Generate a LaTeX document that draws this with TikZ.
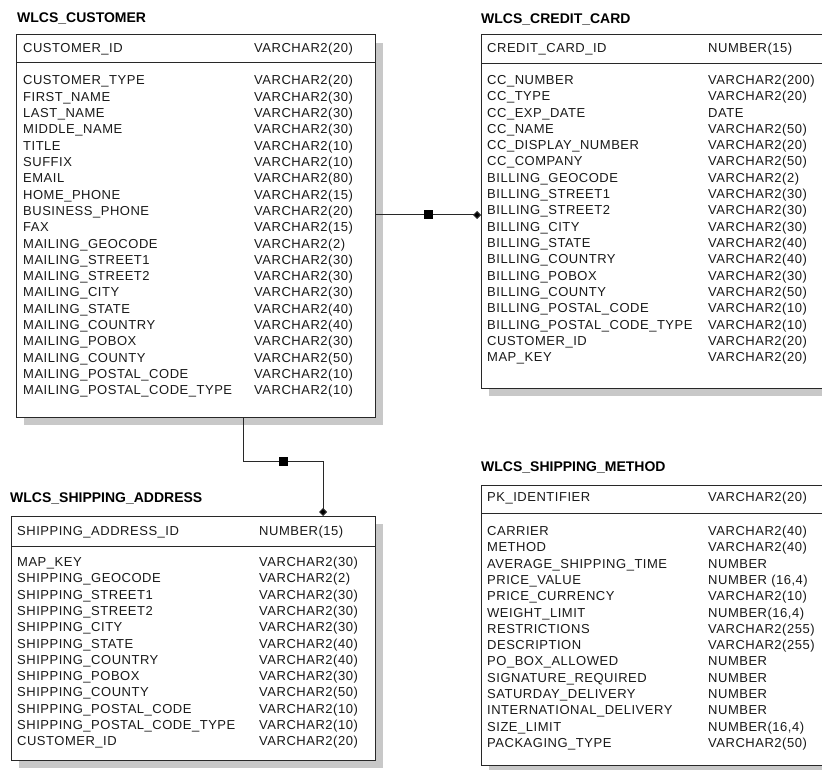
\documentclass[tikz,border=0pt]{standalone}
\usepackage{fontspec}
\setmainfont{Liberation Sans}
\newfontfamily\rowfont{Liberation Sans}[LetterSpace=4]
\newfontfamily\ttlfont{Liberation Sans}[LetterSpace=0]
\usetikzlibrary{shadows,arrows.meta}
\definecolor{shadowgray}{RGB}{200,200,200}
\definecolor{linec}{RGB}{40,40,40}
\tikzset{
  tbl/.style={draw=linec, line width=1pt, fill=white, anchor=north west, inner sep=0pt, outer sep=0pt,
    drop shadow={fill=shadowgray, opacity=1, shadow xshift=8pt, shadow yshift=-8pt}},
  ttl/.style={anchor=base west, inner sep=0pt, font=\ttlfont\bfseries\fontsize{14}{14}\selectfont},
  cell/.style={anchor=base west, inner sep=0pt, font=\rowfont\fontsize{13}{13}\selectfont, text=black!90},
  sqmark/.style={fill=black, minimum size=9pt, inner sep=0pt, outer sep=0pt},
  rel/.style={draw=linec, line width=1pt, -{Diamond[length=8pt,width=8pt,fill=black]}},
  sepline/.style={draw=linec, line width=1pt},
}
\begin{document}
\begin{tikzpicture}[x=1pt,y=-1pt]
\clip (0,0) rectangle (822,770);
\fill[white] (0,0) rectangle (822,770);

% ---------- WLCS_CUSTOMER ----------
\node[ttl] (custT) at (17,22.5) {WLCS\_CUSTOMER};
\node[tbl, minimum width=359pt, minimum height=382pt] (cust) at (16,35) {};
\draw[sepline] ([yshift=-28pt]cust.north west) -- ([yshift=-28pt]cust.north east);
\node[cell] (custIDn) at ([shift={(7,17.5)}]cust.north west) {CUSTOMER\_ID};
\node[cell] (custIDt) at ([shift={(238,17.5)}]cust.north west) {VARCHAR2(20)};
\foreach \n/\t [count=\i, evaluate=\i as \yy using 50+(\i-1)*16.3] in {
CUSTOMER\_TYPE/VARCHAR2(20), FIRST\_NAME/VARCHAR2(30), LAST\_NAME/VARCHAR2(30),
MIDDLE\_NAME/VARCHAR2(30), TITLE/VARCHAR2(10), SUFFIX/VARCHAR2(10), EMAIL/VARCHAR2(80),
HOME\_PHONE/VARCHAR2(15), BUSINESS\_PHONE/VARCHAR2(20), FAX/VARCHAR2(15),
MAILING\_GEOCODE/VARCHAR2(2), MAILING\_STREET1/VARCHAR2(30), MAILING\_STREET2/VARCHAR2(30),
MAILING\_CITY/VARCHAR2(30), MAILING\_STATE/VARCHAR2(40), MAILING\_COUNTRY/VARCHAR2(40),
MAILING\_POBOX/VARCHAR2(30), MAILING\_COUNTY/VARCHAR2(50), MAILING\_POSTAL\_CODE/VARCHAR2(10),
MAILING\_POSTAL\_CODE\_TYPE/VARCHAR2(10)} {
  \node[cell] (cust-n\i) at ([shift={(7,\yy)}]cust.north west) {\n};
  \node[cell] (cust-t\i) at ([shift={(238,\yy)}]cust.north west) {\t};
}

% ---------- WLCS_CREDIT_CARD ----------
\node[ttl] (ccT) at (481,23.5) {WLCS\_CREDIT\_CARD};
\node[tbl, minimum width=360pt, minimum height=353pt] (cc) at (481,35) {};
\draw[sepline] ([yshift=-29pt]cc.north west) -- ([yshift=-29pt]cc.north east);
\node[cell] (ccIDn) at ([shift={(6,17.5)}]cc.north west) {CREDIT\_CARD\_ID};
\node[cell] (ccIDt) at ([shift={(227,17.5)}]cc.north west) {NUMBER(15)};
\foreach \n/\t [count=\i, evaluate=\i as \yy using 49.5+(\i-1)*16.3] in {
CC\_NUMBER/VARCHAR2(200), CC\_TYPE/VARCHAR2(20), CC\_EXP\_DATE/DATE, CC\_NAME/VARCHAR2(50),
CC\_DISPLAY\_NUMBER/VARCHAR2(20), CC\_COMPANY/VARCHAR2(50), BILLING\_GEOCODE/VARCHAR2(2),
BILLING\_STREET1/VARCHAR2(30), BILLING\_STREET2/VARCHAR2(30), BILLING\_CITY/VARCHAR2(30),
BILLING\_STATE/VARCHAR2(40), BILLING\_COUNTRY/VARCHAR2(40), BILLING\_POBOX/VARCHAR2(30),
BILLING\_COUNTY/VARCHAR2(50), BILLING\_POSTAL\_CODE/VARCHAR2(10),
BILLING\_POSTAL\_CODE\_TYPE/VARCHAR2(10), CUSTOMER\_ID/VARCHAR2(20), MAP\_KEY/VARCHAR2(20)} {
  \node[cell] (cc-n\i) at ([shift={(6,\yy)}]cc.north west) {\n};
  \node[cell] (cc-t\i) at ([shift={(227,\yy)}]cc.north west) {\t};
}

% ---------- WLCS_SHIPPING_ADDRESS ----------
\node[ttl] (saT) at (10,502.5) {WLCS\_SHIPPING\_ADDRESS};
\node[tbl, minimum width=364pt, minimum height=244pt] (sa) at (11,516) {};
\draw[sepline] ([yshift=-30pt]sa.north west) -- ([yshift=-30pt]sa.north east);
\node[cell] (saIDn) at ([shift={(6,19.5)}]sa.north west) {SHIPPING\_ADDRESS\_ID};
\node[cell] (saIDt) at ([shift={(248,19.5)}]sa.north west) {NUMBER(15)};
\foreach \n/\t [count=\i, evaluate=\i as \yy using 50.5+(\i-1)*16.3] in {
MAP\_KEY/VARCHAR2(30), SHIPPING\_GEOCODE/VARCHAR2(2), SHIPPING\_STREET1/VARCHAR2(30),
SHIPPING\_STREET2/VARCHAR2(30), SHIPPING\_CITY/VARCHAR2(30), SHIPPING\_STATE/VARCHAR2(40),
SHIPPING\_COUNTRY/VARCHAR2(40), SHIPPING\_POBOX/VARCHAR2(30), SHIPPING\_COUNTY/VARCHAR2(50),
SHIPPING\_POSTAL\_CODE/VARCHAR2(10), SHIPPING\_POSTAL\_CODE\_TYPE/VARCHAR2(10),
CUSTOMER\_ID/VARCHAR2(20)} {
  \node[cell] (sa-n\i) at ([shift={(6,\yy)}]sa.north west) {\n};
  \node[cell] (sa-t\i) at ([shift={(248,\yy)}]sa.north west) {\t};
}

% ---------- WLCS_SHIPPING_METHOD ----------
\node[ttl] (smT) at (481,471.5) {WLCS\_SHIPPING\_METHOD};
\node[tbl, minimum width=360pt, minimum height=280pt] (sm) at (481,485) {};
\draw[sepline] ([yshift=-28pt]sm.north west) -- ([yshift=-28pt]sm.north east);
\node[cell] (smIDn) at ([shift={(6,16.5)}]sm.north west) {PK\_IDENTIFIER};
\node[cell] (smIDt) at ([shift={(227,16.5)}]sm.north west) {VARCHAR2(20)};
\foreach \n/\t [count=\i, evaluate=\i as \yy using 50.5+(\i-1)*16.3] in {
CARRIER/VARCHAR2(40), METHOD/VARCHAR2(40), AVERAGE\_SHIPPING\_TIME/NUMBER,
PRICE\_VALUE/{NUMBER (16,4)}, PRICE\_CURRENCY/VARCHAR2(10), WEIGHT\_LIMIT/{NUMBER(16,4)},
RESTRICTIONS/VARCHAR2(255), DESCRIPTION/VARCHAR2(255), PO\_BOX\_ALLOWED/NUMBER,
SIGNATURE\_REQUIRED/NUMBER, SATURDAY\_DELIVERY/NUMBER, INTERNATIONAL\_DELIVERY/NUMBER,
SIZE\_LIMIT/{NUMBER(16,4)}, PACKAGING\_TYPE/VARCHAR2(50)} {
  \node[cell] (sm-n\i) at ([shift={(6,\yy)}]sm.north west) {\n};
  \node[cell] (sm-t\i) at ([shift={(227,\yy)}]sm.north west) {\t};
}

% ---------- relationships ----------
\coordinate (r1) at ([yshift=-180pt]cust.north east);
\coordinate (r2) at ([yshift=-180pt]cc.north west);
\draw[rel] (r1) -- node[sqmark] (m1) {} (r2);

\coordinate (b1) at ([xshift=227pt]cust.south west);
\coordinate (b2) at ([xshift=312pt]sa.north west);
\coordinate (k1) at ([yshift=-44pt]b1);
\coordinate (k2) at (b2 |- k1);
\draw[rel] (b1) -- (k1) -- node[sqmark] (m2) {} (k2) -- (b2);
\end{tikzpicture}
\end{document}
